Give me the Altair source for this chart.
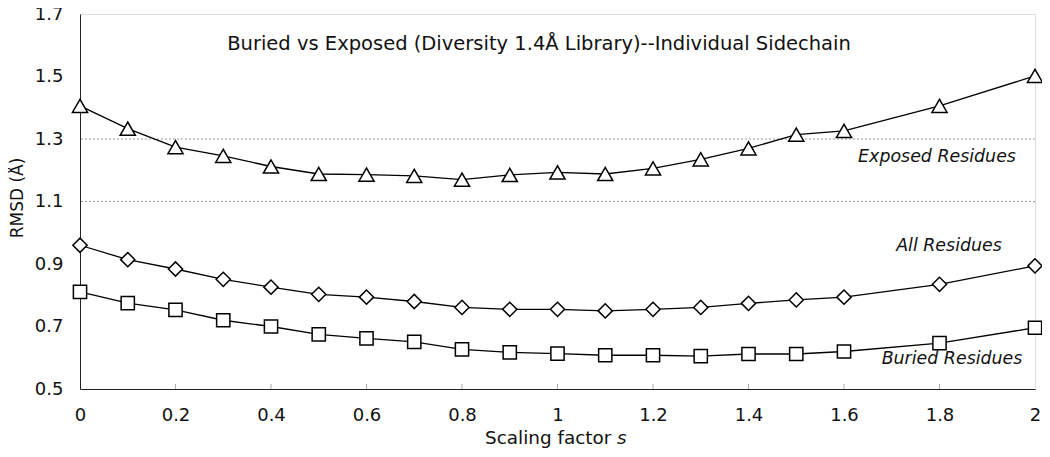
import altair as alt
import pandas as pd

# ---- data ----
s_values = [0, 0.1, 0.2, 0.3, 0.4, 0.5, 0.6, 0.7, 0.8, 0.9, 1.0, 1.1, 1.2, 1.3, 1.4, 1.5, 1.6, 1.8, 2.0]
exposed = [1.406, 1.333, 1.274, 1.246, 1.212, 1.188, 1.186, 1.182, 1.170, 1.185, 1.193, 1.188,
           1.206, 1.235, 1.270, 1.314, 1.326, 1.406, 1.502]
all_res = [0.960, 0.914, 0.884, 0.851, 0.826, 0.803, 0.794, 0.780, 0.761, 0.755, 0.755, 0.750,
           0.755, 0.761, 0.774, 0.785, 0.794, 0.835, 0.894]
buried = [0.811, 0.775, 0.753, 0.720, 0.700, 0.675, 0.662, 0.651, 0.627, 0.617, 0.613, 0.608,
          0.608, 0.605, 0.612, 0.612, 0.620, 0.647, 0.696]
series_names = ["Exposed Residues", "All Residues", "Buried Residues"]
series_shapes = ["triangle-up", "diamond", "square"]
series_sizes = [230, 175, 180]
x_ticks = [0, 0.2, 0.4, 0.6, 0.8, 1.0, 1.2, 1.4, 1.6, 1.8, 2.0]
inner_ticks = [0.2, 0.4, 0.6, 0.8, 1.0, 1.2, 1.4, 1.6, 1.8]
y_ticks = [0.5, 0.7, 0.9, 1.1, 1.3, 1.5, 1.7]
grid_values = [1.1, 1.3]
title_text = "Buried vs Exposed (Diversity 1.4Å Library)--Individual Sidechain"

FONT = "DejaVu Sans"
W, H = 955, 375

rows = []
for name, vals in zip(series_names, [exposed, all_res, buried]):
    for s, v in zip(s_values, vals):
        rows.append({"series": name, "s": s, "rmsd": v})
df = pd.DataFrame(rows)

xscale = alt.Scale(domain=[0, 2], nice=False, zero=False)
yscale = alt.Scale(domain=[0.5, 1.7], nice=False, zero=False)

xaxis = alt.Axis(values=x_ticks, format="~g", ticks=False, grid=False, labelPadding=17,
                 labelFontSize=18, labelFont=FONT, labelColor="#111", title=None,
                 domainColor="#222", labelFlush=False)
yaxis = alt.Axis(values=y_ticks, format="~g", ticks=False, grid=False, labelPadding=17,
                 labelFontSize=18, labelFont=FONT, labelColor="#111", title=None,
                 domainColor="#222")

base = alt.Chart(df)

lines = base.mark_line(color="black", strokeWidth=1.3).encode(
    x=alt.X("s:Q", scale=xscale, axis=xaxis),
    y=alt.Y("rmsd:Q", scale=yscale, axis=yaxis),
    detail="series:N",
)

points = base.mark_point(fill="white", fillOpacity=1, stroke="black", strokeWidth=1.5, opacity=1).encode(
    x=alt.X("s:Q", scale=xscale),
    y=alt.Y("rmsd:Q", scale=yscale),
    shape=alt.Shape("series:N", scale=alt.Scale(domain=series_names, range=series_shapes), legend=None),
    size=alt.Size("series:N", scale=alt.Scale(domain=series_names, range=series_sizes), legend=None),
)

grid = alt.Chart(pd.DataFrame({"g": grid_values})).mark_rule(
    color="#9a9a9a", strokeDash=[2, 2], strokeWidth=1
).encode(y=alt.Y("g:Q", scale=yscale))

ticks = alt.Chart(pd.DataFrame({"t": inner_ticks})).mark_rule(color="#aaaaaa", strokeWidth=1).encode(
    x=alt.X("t:Q", scale=xscale), y=alt.value(H), y2=alt.value(H - 5)
)


def label(text, x, y, size=17, style="normal", align="center", angle=0, baseline="alphabetic"):
    kw = dict(font=FONT, fontSize=size, fontStyle=style, align=align, baseline=baseline, color="#111")
    if angle:
        kw["angle"] = angle
    return alt.Chart(pd.DataFrame({"t": [text]})).mark_text(**kw).encode(
        text="t:N", x=alt.value(x), y=alt.value(y)
    )


texts = [
    label(title_text, 459, 36, size=19.5),
    label("Exposed Residues", 857, 148, size=17.4, style="italic"),
    label("All Residues", 869, 237, size=17.4, style="italic"),
    label("Buried Residues", 872, 350, size=17.4, style="italic"),
    label("Scaling factor", 405, 430, size=18.4, align="left"),
    label("s", 537, 430, size=18.4, style="italic", align="left"),
    label("RMSD (Å)", -62, 184, size=17, angle=270, baseline="middle"),
]

chart = alt.layer(grid, ticks, lines, points, *texts).properties(
    width=W, height=H,
    autosize=alt.AutoSizeParams(type="none"),
    padding={"left": 72, "top": 6, "right": 7, "bottom": 60},
).configure_view(stroke="#999999", strokeWidth=1).configure(background="white")

chart.save("out.html", embed_options={"renderer": "svg", "actions": False})
